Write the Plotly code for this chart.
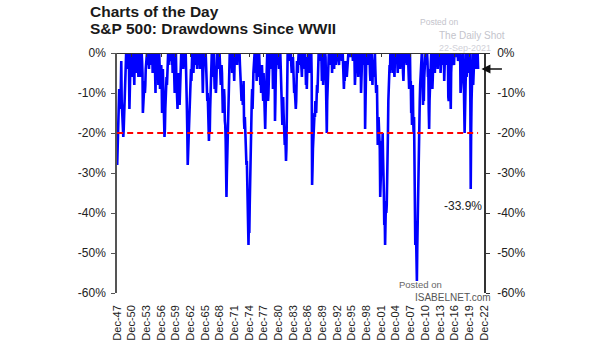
import plotly.graph_objects as go

# Monthly drawdown (%), Dec-1947 .. Sep-2021
dd_1940s = [
    -28,                                                   # 1947 Dec
    -24, -18, -14, -12, -9, -13, -11, -14, -5, -2, -12, -16,  # 1948
    -15, -18, -21, -19, -16, -10, -6, -3, -1, 0, -3, 0,      # 1949
]
dd_1950s = [
    -2, 0, -4, 0, -3, -14, -11, -5, 0, -3, -6, 0,            # 1950
    -2, 0, -5, 0, -6, -8, 0, -2, 0, -5, -1, 0,               # 1951
    -3, -5, 0, -6, -2, 0, -1, -4, -6, -3, 0, 0,              # 1952
    -2, -5, -15, -10, -12, -9, -7, -10, -8, -4, -2, 0,       # 1953
    0, -3, 0, -2, 0, -4, 0, -3, 0, -1, 0, 0,                 # 1954
    -3, 0, -5, 0, -2, 0, -4, 0, -7, -10, -1, 0,              # 1955
    -4, 0, -6, -1, -8, -4, 0, -3, -9, -5, -7, -3,            # 1956
    -7, -15, -9, -4, -8, -12, -18, -21, -19, -14, -11, -9,   # 1957
    -6, -8, -4, -2, 0, -3, 0, -1, 0, 0, -2, 0,               # 1958
    0, -3, 0, -5, -2, -4, 0, -6, -10, -4, -2, 0,             # 1959
]
dd_1960s = [
    -6, -11, -9, -14, -8, -5, -10, -7, -13, -9, -4, -1,      # 1960
    0, -2, 0, -3, 0, -4, -1, 0, -3, 0, -2, 0,                # 1961
    -3, -8, -14, -20, -28, -25, -22, -18, -20, -17, -10, -6, # 1962
    -4, -7, -2, 0, -3, 0, -5, -1, 0, -3, 0, -1,              # 1963
    0, -2, 0, -4, 0, -1, -3, 0, -2, 0, -4, 0,                # 1964
    -1, 0, -3, 0, -8, -10, -5, -2, 0, -1, 0, -2,             # 1965
    0, -4, -8, -6, -12, -10, -15, -19, -22, -17, -20, -14,   # 1966
    -9, -5, -2, 0, -6, -3, 0, -2, 0, -7, -9, -4,             # 1967
    -6, -10, -8, -3, 0, -2, 0, -4, 0, -1, 0, -2,             # 1968
    -4, -8, -6, -3, -5, -10, -15, -12, -13, -9, -11, -17,    # 1969
]
dd_1970s = [
    -18, -22, -28, -36, -30, -26, -20, -14, -9, -5, -3, 0,   # 1970
    -1, 0, -3, 0, -2, -5, -1, -3, 0, -4, -7, -2,             # 1971
    0, -2, 0, -1, 0, -3, 0, -2, 0, 0, -1, 0,                 # 1972
    -3, -6, -5, -9, -12, -10, -8, -13, -10, -7, -17, -19,    # 1973
    -16, -20, -17, -24, -28, -27, -33, -38, -44, -48, -42, -45,  # 1974
    -38, -30, -24, -20, -16, -12, -9, -14, -10, -5, -2, 0,   # 1975
    0, -3, 0, -5, -2, -7, 0, -4, -1, -6, -3, 0,              # 1976
    -2, -5, -8, -4, -10, -6, -3, -7, -9, -12, -5, -8,        # 1977
    -13, -16, -19, -14, -8, -5, -2, 0, -3, -12, -10, -6,     # 1978
    -3, 0, -4, 0, -2, 0, -3, 0, -1, -9, -6, -2,              # 1979
]
dd_1980s = [
    0, -2, -17, -12, -5, 0, 0, -1, 0, 0, -3, 0,              # 1980
    -4, 0, -2, 0, -5, -8, -10, -14, -18, -13, -11, -15,      # 1981
    -17, -20, -23, -19, -22, -27, -24, -12, -5, 0, 0, -2,    # 1982
    0, -2, 0, 0, -1, 0, -3, -5, -2, -4, -1, -3,              # 1983
    -6, -10, -8, -11, -13, -14, -12, -3, -2, -4, -5, -2,     # 1984
    0, -2, 0, -3, 0, -1, -2, -4, -6, -1, 0, 0,               # 1985
    -2, 0, -1, -4, 0, -3, -8, -2, -9, -4, -1, -3,            # 1986
    0, 0, -2, -5, -3, 0, 0, 0, -6, -33, -29, -24,            # 1987
    -20, -17, -19, -15, -16, -12, -13, -15, -11, -8, -10, -7,  # 1988
    -3, 0, -1, 0, -2, 0, 0, 0, -2, -7, -3, 0,                # 1989
]
dd_1990s = [
    -8, -5, -2, -4, 0, 0, -1, -10, -15, -20, -12, -8,        # 1990
    -5, 0, 0, -1, -3, 0, -1, 0, -2, 0, -5, 0,                # 1991
    -1, 0, -3, -4, 0, -2, 0, -3, -1, -2, 0, 0,               # 1992
    -1, 0, -2, -3, 0, -1, 0, 0, -1, 0, -2, -1,               # 1993
    0, -3, -8, -9, -6, -7, -4, -2, -5, -3, -6, -4,           # 1994
    -2, 0, 0, 0, 0, 0, 0, -1, 0, 0, 0, 0,                    # 1995
    0, -2, 0, -1, 0, -2, -8, -4, 0, 0, 0, -3,                # 1996
    0, -2, -6, 0, 0, 0, 0, -5, 0, -10, -3, -1,               # 1997
    0, 0, 0, 0, -3, 0, -1, -19, -10, -6, 0, 0,               # 1998
    -2, 0, -1, 0, -3, 0, -1, -5, -7, -3, 0, 0,               # 1999
]
dd_2000s = [
    -5, -8, -2, -4, -6, -3, -2, 0, -4, -6, -10, -9,          # 2000
    -8, -15, -23, -20, -16, -18, -19, -24, -36, -30, -25, -22,  # 2001
    -22, -24, -20, -26, -29, -35, -43, -40, -48, -42, -37, -40,  # 2002
    -38, -34, -28, -20, -12, -8, -6, -3, -5, 0, -1, 0,       # 2003
    0, -1, -3, -5, -2, 0, -4, -6, -1, 0, 0, 0,               # 2004
    -1, 0, -3, -5, 0, 0, 0, -2, 0, -4, 0, 0,                 # 2005
    0, 0, 0, 0, -5, -7, -3, 0, 0, 0, 0, 0,                   # 2006
    0, -3, -2, 0, 0, -3, -5, -9, 0, 0, -8, -7,               # 2007
    -15, -13, -18, -10, -8, -17, -20, -16, -28, -40, -48, -42,  # 2008
    -46, -52, -57, -48, -40, -38, -30, -24, -18, -12, -8, -5,   # 2009
]
dd_2010s = [
    -2, -4, 0, 0, -8, -13, -9, -12, -6, -2, 0, 0,            # 2010
    0, 0, -3, 0, -2, -6, -4, -14, -19, -12, -10, -8,         # 2011
    -3, 0, 0, -2, -9, -6, -3, 0, 0, -2, -5, -1,              # 2012
    0, 0, 0, 0, 0, -4, 0, -3, 0, 0, 0, 0,                    # 2013
    -5, 0, 0, -1, 0, 0, -3, 0, 0, -7, 0, 0,                  # 2014
    -3, 0, -1, 0, 0, -2, 0, -11, -12, -2, 0, -3,             # 2015
    -10, -14, -5, -2, 0, -1, 0, 0, -2, -3, 0, 0,             # 2016
    0, 0, -1, 0, 0, 0, 0, -2, 0, 0, 0, 0,                    # 2017
    0, -10, -9, -7, -3, -2, 0, 0, 0, -10, -9, -20,           # 2018
    -15, -8, -3, 0, -6, 0, 0, -5, -1, 0, 0, 0,               # 2019
]
dd_2020s = [
    0, -12, -34, -20, -12, -8, -4, 0, -8, -5, 0, 0,          # 2020
    -2, -3, 0, 0, -4, 0, 0, 0, -4,                           # 2021 (to Sep)
]

drawdown = dd_1940s + dd_1950s + dd_1960s + dd_1970s + dd_1980s + dd_1990s + dd_2000s + dd_2010s + dd_2020s

# month dates, starting Dec 1947
dates = []
y, m = 1947, 12
for _ in drawdown:
    dates.append(f"{y}-{m:02d}-15")
    m += 1
    if m > 12:
        m = 1
        y += 1

tick_years = list(range(1947, 2023, 3))
tick_vals = [f"{yr}-12-01" for yr in tick_years]
tick_text = [f"Dec-{yr % 100:02d}" for yr in tick_years]

y_ticks = [0, -10, -20, -30, -40, -50, -60]
y_text = [f"{v}%" for v in y_ticks]

threshold = -20
latest_label = "-33.9%"
latest_label_value = -38.2

FONT = "Liberation Sans, Arial, sans-serif"

fig = go.Figure()
fig.add_trace(go.Scatter(x=dates, y=drawdown, mode="lines",
                         line=dict(color="#0000FF", width=2.6),
                         showlegend=False, hoverinfo="skip"))
# dashed -20% line
fig.add_trace(go.Scatter(x=[dates[0], dates[-1]], y=[threshold, threshold], mode="lines",
                         line=dict(color="#FF0000", width=2, dash="6px,4px"),
                         showlegend=False, hoverinfo="skip"))
# invisible trace for right axis
fig.add_trace(go.Scatter(x=[dates[0]], y=[0], yaxis="y2", mode="markers",
                         marker=dict(opacity=0), showlegend=False, hoverinfo="skip"))
# invisible trace for top axis
fig.add_trace(go.Scatter(x=[dates[0]], y=[0], xaxis="x2", mode="markers",
                         marker=dict(opacity=0), showlegend=False, hoverinfo="skip"))

xrange = ["1947-12-01", "2022-12-01"]
fig.update_layout(
    width=605, height=341,
    margin=dict(l=117, r=121, t=53, b=48),
    plot_bgcolor="white", paper_bgcolor="white",
    font=dict(family=FONT, color="#222222", size=11),
    xaxis=dict(range=xrange, tickvals=tick_vals, ticktext=tick_text, tickangle=-90,
               showgrid=False, zeroline=False, showline=False, ticks="",
               ticklabelstandoff=9, automargin=False,
               tickfont=dict(size=11, color="#222222")),
    xaxis2=dict(range=xrange, overlaying="x", side="top", anchor="free", position=1.0,
                tickvals=tick_vals, showticklabels=False, ticks="inside", ticklen=3,
                tickcolor="#333333", showline=True, linecolor="#333333", linewidth=1,
                showgrid=False, zeroline=False, automargin=False),
    yaxis=dict(range=[-60, 0], tickvals=y_ticks, ticktext=y_text, showgrid=False,
               zeroline=False, showline=True, linecolor="#555555", linewidth=1.5,
               ticks="outside", ticklen=4, tickcolor="#555555", ticklabelstandoff=3,
               automargin=False, tickfont=dict(size=12, color="#222222")),
    yaxis2=dict(range=[-60, 0], tickvals=y_ticks, ticktext=y_text, overlaying="y",
                side="right", showgrid=False, zeroline=False, showline=True,
                linecolor="#333333", linewidth=1.5, ticks="outside", ticklen=4,
                tickcolor="#333333", ticklabelstandoff=5, automargin=False,
                tickfont=dict(size=12, color="#222222")),
)

ann = [
    dict(text="<b>Charts of the Day</b>", x=88, y=12, font=dict(size=15.5, color="#1a1a1a")),
    dict(text="<b>S&P 500: Drawdowns Since WWII</b>", x=88, y=29, font=dict(size=15.5, color="#1a1a1a")),
    dict(text="Posted on", x=418, y=22, font=dict(size=8.5, color="#c4c4cc")),
    dict(text="The Daily Shot", x=437, y=35, font=dict(size=10, color="#c4c4cc")),
    dict(text="22-Sep-2021", x=437, y=48, font=dict(size=9, color="#d0d0d8")),
    dict(text="Posted on", x=397, y=284, font=dict(size=9.5, color="#666666")),
    dict(text="ISABELNET.com", x=413, y=297, font=dict(size=10, color="#555555")),
]
for a in ann:
    fig.add_annotation(xref="paper", yref="paper", xanchor="left", yanchor="middle",
                       showarrow=False, text=a["text"],
                       x=(a["x"] - 117) / (605 - 117 - 121),
                       y=(341 - a["y"] - 48) / (341 - 53 - 48),
                       font=dict(family=FONT, **a["font"]))

fig.add_annotation(xref="paper", yref="y", x=1.0, y=latest_label_value, xanchor="right",
                   yanchor="middle", showarrow=False, text=latest_label,
                   font=dict(family=FONT, size=12, color="#222222"))

# arrow pointing at latest value
fig.add_annotation(xref="paper", yref="y", x=0.993, y=drawdown[-1], ax=22, ay=0,
                   showarrow=True, arrowhead=2, arrowsize=1.2, arrowwidth=1.5,
                   arrowcolor="#111111", text="")

fig.write_html("out.html")
